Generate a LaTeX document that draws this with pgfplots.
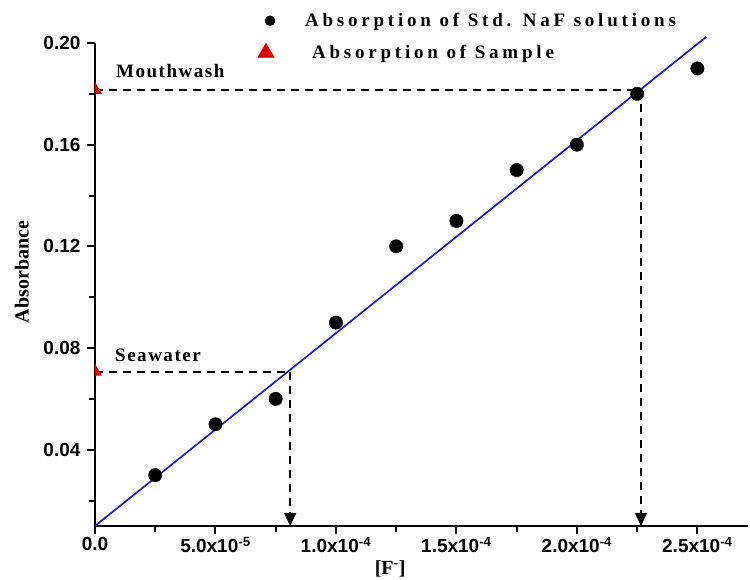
\documentclass[border=0pt]{standalone}
\usepackage{pgfplots}
\pgfplotsset{compat=1.18}
\usetikzlibrary{arrows.meta}
\usepackage{fontspec}
\setmainfont{Liberation Serif}
\newfontfamily\tickfont{Liberation Sans}
\newfontfamily\legfont[LetterSpace=20]{Liberation Serif}
\newfontfamily\annfont[LetterSpace=8]{Liberation Serif}

\definecolor{fitblue}{RGB}{25,25,200}
\definecolor{samplered}{RGB}{225,0,0}

% right half of an upward triangle, for samples sitting on the y axis
\pgfdeclareplotmark{halftriangle}{%
  \pgfpathmoveto{\pgfpoint{0pt}{\pgfplotmarksize}}%
  \pgfpathlineto{\pgfpoint{0.866\pgfplotmarksize}{-0.5\pgfplotmarksize}}%
  \pgfpathlineto{\pgfpoint{0pt}{-0.5\pgfplotmarksize}}%
  \pgfpathclose
  \pgfusepathqfill}

\begin{document}
\begin{tikzpicture}
\begin{axis}[
  scale only axis,
  width=653pt, height=483pt,
  xmin=0, xmax=2.71e-4,
  ymin=0.01, ymax=0.20,
  clip=false,
  axis x line*=bottom, axis y line*=left,
  axis line style={-, line width=2.4pt},
  tick align=outside,
  major tick length=8pt, minor tick length=6pt,
  every tick/.style={black, line width=2pt},
  xtick={0,5e-5,1e-4,1.5e-4,2e-4,2.5e-4},
  minor xtick={2.5e-5,7.5e-5,1.25e-4,1.75e-4,2.25e-4},
  xticklabels={0.0,
    5.0x10\textsuperscript{-5},
    1.0x10\textsuperscript{-4},
    1.5x10\textsuperscript{-4},
    2.0x10\textsuperscript{-4},
    2.5x10\textsuperscript{-4}},
  scaled x ticks=false,
  ytick={0.04,0.08,0.12,0.16,0.20},
  minor ytick={0.02,0.06,0.10,0.14,0.18},
  yticklabels={0.04,0.08,0.12,0.16,0.20},
  ticklabel style={font=\tickfont\bfseries\fontsize{19}{22}\selectfont},
  yticklabel style={xshift=-3pt},
  xlabel={[F\textsuperscript{-}]},
  ylabel={Absorbance},
  label style={font=\bfseries\fontsize{20}{24}\selectfont},
  xlabel style={at={(axis description cs:0.452,-0.089)}, anchor=center},
  ylabel style={at={(axis description cs:-0.112,0.526)}, anchor=center, rotate=0},
  legend style={
    at={(axis description cs:0.249,1.066)}, anchor=north west,
    draw=none, fill=none, inner sep=0pt,
    font=\legfont\bfseries\fontsize{19}{22}\selectfont,
    row sep=13pt, column sep=28pt,
    cells={anchor=west},
  },
  legend cell align=left,
]
% calibration line
\addplot[fitblue, line width=1.7pt, forget plot] coordinates {(0,0.0100) (2.537e-4,0.2024)};

% readings of the two samples, projected onto the concentration axis
\addplot[black, line width=1.8pt, dash pattern=on 8pt off 6pt,
  -{Triangle[width=12pt,length=13pt]}, forget plot]
  coordinates {(0,0.0707) (8.1e-5,0.0707) (8.1e-5,0.0100)};
\addplot[black, line width=1.8pt, dash pattern=on 8pt off 6pt,
  -{Triangle[width=12pt,length=13pt]}, forget plot]
  coordinates {(0,0.1816) (2.266e-4,0.1816) (2.266e-4,0.0100)};

% standards
\addplot[only marks, mark=*, mark size=6.7pt, black,
  legend image post style={mark size=5pt}]
  coordinates {
    (2.5e-5,0.03) (5.0e-5,0.05) (7.5e-5,0.06) (1.0e-4,0.09) (1.25e-4,0.12)
    (1.5e-4,0.13) (1.75e-4,0.15) (2.0e-4,0.16) (2.25e-4,0.18) (2.5e-4,0.19)};
\addlegendentry{Absorption of Std. NaF solutions}

% samples
\addplot[only marks, mark=halftriangle, mark size=8pt, samplered,
  legend image post style={mark=triangle*, mark size=9.5pt, xshift=-4pt}]
  coordinates {(0,0.0707) (0,0.1816)};
\addlegendentry{\hspace{7pt}Absorption of Sample}

\node[anchor=base west, inner sep=0pt, font=\annfont\bfseries\fontsize{19}{22}\selectfont]
  at (axis cs:8.7e-6,0.1863) {Mouthwash};
\node[anchor=base west, inner sep=0pt, font=\annfont\bfseries\fontsize{19}{22}\selectfont]
  at (axis cs:8.3e-6,0.0746) {Seawater};

\coordinate (bbsw) at (rel axis cs:-0.1455,-0.1118);
\coordinate (bbne) at (rel axis cs:1.0031,1.089);
\end{axis}
\pgfresetboundingbox
\path[use as bounding box] (bbsw) rectangle (bbne);
\end{tikzpicture}
\end{document}
